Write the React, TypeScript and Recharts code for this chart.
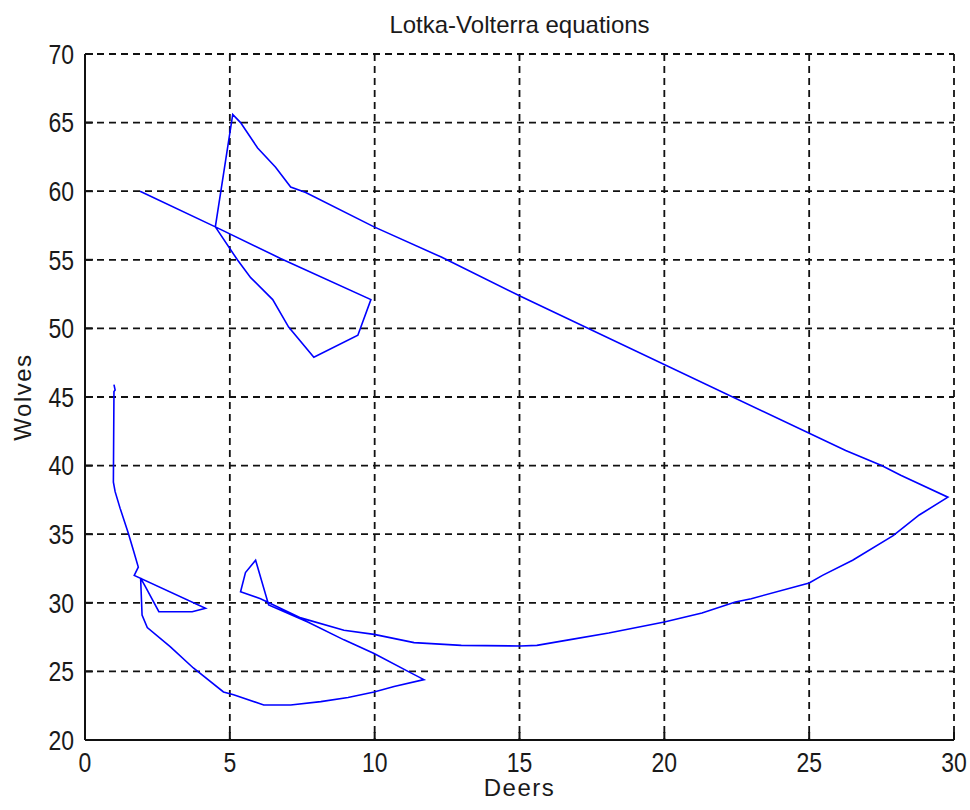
import { CartesianGrid, Line, LineChart, XAxis, YAxis } from "recharts";

// phase trajectory: deer population vs wolf population
const deers = [
  1.0, 1.04, 1.0, 0.98, 1.04, 1.21, 1.49, 1.66, 1.84, 1.7, 4.16, 3.7, 2.55, 2.08, 1.92, 1.97, 2.15, 2.94, 3.74,
  4.78, 5.13, 6.17, 7.1, 8.14, 9.08, 9.98, 10.67, 11.7, 11.15, 9.98, 8.94, 7.69, 6.34, 5.89, 5.54, 5.37, 6.06,
  7.45, 8.94, 9.98, 11.36, 12.99, 15.03, 15.6, 16.7, 18.08, 20.0, 21.3, 22.45, 23.0, 25.0, 25.46, 26.5, 27.9,
  28.8, 29.79, 28.16, 27.5, 26.26, 15.07, 12.3, 9.98, 7.62, 7.1, 6.58, 5.96, 5.37, 5.1, 4.5, 5.26, 5.72, 6.48,
  7.03, 7.9, 9.42, 9.87, 6.75, 4.5, 1.9,
];
const wolves = [
  45.9, 45.5, 45.4, 38.8, 38.1, 36.9, 35.1, 33.9, 32.6, 32.0, 29.6, 29.35, 29.35, 31.2, 31.8, 29.1, 28.2, 26.8,
  25.25, 23.5, 23.3, 22.55, 22.55, 22.8, 23.1, 23.5, 23.9, 24.4, 25.0, 26.3, 27.3, 28.6, 29.85, 33.1, 32.2, 30.8,
  30.3, 28.9, 28.0, 27.7, 27.1, 26.9, 26.85, 26.9, 27.3, 27.8, 28.6, 29.25, 30.06, 30.3, 31.45, 32.0, 33.1, 34.9,
  36.4, 37.7, 39.3, 40.0, 41.1, 52.3, 55.2, 57.4, 59.9, 60.3, 61.75, 63.15, 65.0, 65.6, 57.4, 55.0, 53.7, 52.1,
  50.1, 47.9, 49.5, 52.1, 55.1, 57.4, 60.0,
];
const xTicks = [0, 5, 10, 15, 20, 25, 30];
const yTicks = [20, 25, 30, 35, 40, 45, 50, 55, 60, 65, 70];

const data = deers.map((d, i) => ({ deers: d, wolves: wolves[i] }));

const FONT = '"Liberation Sans", Arial, sans-serif';
const INK = "#1a1a1a";

function XTick({ x, y, payload }: any) {
  return (
    <g transform={`translate(${x},${y}) scale(1,1.18)`}>
      <text textAnchor="middle" dy="0.72em" fontSize={23} fontFamily={FONT} fill={INK}>
        {payload.value}
      </text>
    </g>
  );
}

function YTick({ x, y, payload }: any) {
  return (
    <g transform={`translate(${x},${y}) scale(1,1.18)`}>
      <text textAnchor="end" dy="0.36em" fontSize={23} fontFamily={FONT} fill={INK}>
        {payload.value}
      </text>
    </g>
  );
}

export default function App() {
  const labelStyle = {
    position: "absolute" as const,
    fontFamily: FONT,
    fontSize: 24,
    lineHeight: "24px",
    color: INK,
    whiteSpace: "nowrap" as const,
  };

  return (
    <div style={{ position: "absolute", left: 0, top: 0, width: 970, height: 810, background: "#fff" }}>
      <LineChart width={970} height={810} data={data} margin={{ top: 54, right: 16, bottom: 30, left: 25 }}>
        <CartesianGrid stroke="#111" strokeWidth={1.8} strokeDasharray="7 5" />
        <XAxis
          type="number"
          dataKey="deers"
          domain={[0, 30]}
          ticks={xTicks}
          allowDataOverflow
          height={40}
          stroke="#111"
          strokeWidth={2}
          tickSize={-8}
          tickMargin={20}
          tick={<XTick />}
        />
        <YAxis
          type="number"
          domain={[20, 70]}
          ticks={yTicks}
          allowDataOverflow
          width={60}
          stroke="#111"
          strokeWidth={2}
          tickSize={-8}
          tickMargin={19}
          tick={<YTick />}
        />
        <Line
          type="linear"
          dataKey="wolves"
          stroke="#0000ff"
          strokeWidth={1.6}
          dot={false}
          activeDot={false}
          isAnimationActive={false}
        />
      </LineChart>
      <div style={{ ...labelStyle, left: 85, width: 869, top: 13, textAlign: "center" }}>
        Lotka-Volterra equations
      </div>
      <div style={{ ...labelStyle, left: 85, width: 869, top: 776, textAlign: "center", letterSpacing: 1.5 }}>
        Deers
      </div>
      <div
        style={{
          ...labelStyle,
          left: 23,
          top: 397,
          letterSpacing: 1.5,
          transform: "translate(-50%, -50%) rotate(-90deg)",
        }}
      >
        Wolves
      </div>
    </div>
  );
}
